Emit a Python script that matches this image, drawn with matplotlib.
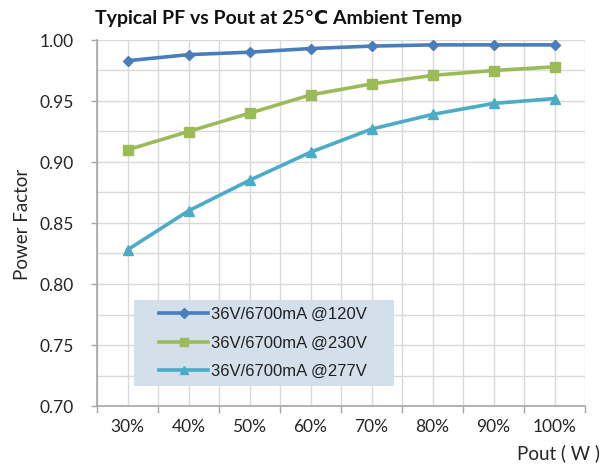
import matplotlib
matplotlib.use("Agg")
import matplotlib.pyplot as plt
from matplotlib.patches import Rectangle
import numpy as np

categories = ["30%", "40%", "50%", "60%", "70%", "80%", "90%", "100%"]
pf_120v = [0.983, 0.988, 0.990, 0.993, 0.995, 0.996, 0.996, 0.996]
pf_230v = [0.910, 0.925, 0.940, 0.955, 0.964, 0.971, 0.975, 0.978]
pf_277v = [0.828, 0.860, 0.885, 0.908, 0.927, 0.939, 0.948, 0.952]
series_labels = ["36V/6700mA @120V", "36V/6700mA @230V", "36V/6700mA @277V"]
y_ticks = [0.70, 0.75, 0.80, 0.85, 0.90, 0.95, 1.00]

W, H = 613, 469
fig = plt.figure(figsize=(W / 100, H / 100), dpi=100)
ax = fig.add_axes([97 / W, 1 - 406 / H, (585 - 97) / W, (406 - 40) / H])

x = np.arange(len(categories))
ax.plot(x, pf_120v, color="#4A7EBB", lw=2.6, marker="D", ms=5.5, label=series_labels[0], zorder=3)
ax.plot(x, pf_230v, color="#9BBB59", lw=2.6, marker="s", ms=6.5, label=series_labels[1], zorder=3)
ax.plot(x, pf_277v, color="#4BACC6", lw=2.6, marker="^", ms=7, label=series_labels[2], zorder=3)

ax.set_xlim(-0.5, len(categories) - 0.5)
ax.set_ylim(0.70, 1.00)

ax.set_xticks(x)
ax.set_xticklabels(categories)
ax.set_xticks(np.arange(-0.5, len(categories), 1.0), minor=True)
ax.set_yticks(y_ticks)
ax.set_yticklabels([f"{v:.2f}" for v in y_ticks])
ax.set_yticks(np.arange(0.725, 1.0, 0.05), minor=True)

for lab in ax.get_xticklabels() + ax.get_yticklabels():
    lab.set_fontfamily(["Lato", "DejaVu Sans"])
    lab.set_fontsize(12.5)
    lab.set_color("#262626")

ax.tick_params(axis="x", which="major", length=0, pad=9)
ax.tick_params(axis="x", which="minor", length=5, color="#A6A6A6", width=1, direction="out")
ax.tick_params(axis="y", which="major", length=4, color="#A6A6A6", width=1, pad=13)
ax.tick_params(axis="y", which="minor", length=0)

ax.grid(True, which="both", color="#D9D9D9", lw=1, zorder=0)
ax.set_axisbelow(True)
for s in ["top", "right"]:
    ax.spines[s].set_visible(False)
for s in ["left", "bottom"]:
    ax.spines[s].set_color("#A6A6A6")
    ax.spines[s].set_linewidth(1.2)

fig.text(95 / W, 1 - 18 / H, "Typical PF vs Pout at 25℃ Ambient Temp",
         fontsize=14, fontweight="bold", family=["Lato", "DejaVu Sans"],
         ha="left", va="center", color="#111111")
fig.text(23 / W, 1 - 224 / H, "Power Factor", rotation=90, fontsize=13.5,
         family=["Lato", "DejaVu Sans"], ha="center", va="center", color="#262626")
fig.text(600 / W, 1 - 453 / H, "Pout ( W )", fontsize=13.5,
         family=["Lato", "DejaVu Sans"], ha="right", va="center", color="#262626")

# legend background box
bg = Rectangle((134 / W, 1 - 386 / H), (394 - 134) / W, (386 - 300) / H,
               transform=fig.transFigure, facecolor="#D3DFEB", edgecolor="none", zorder=4)
fig.add_artist(bg)

leg = fig.legend(loc="center left", bbox_to_anchor=(159 / W, 1 - 343 / H),
                 bbox_transform=fig.transFigure, frameon=False,
                 prop={"family": "Liberation Sans", "size": 12},
                 handlelength=2.95, borderpad=0, labelspacing=0.8, handletextpad=0.15,
                 borderaxespad=0, markerscale=0.85)
leg.set_zorder(5)
for t in leg.get_texts():
    t.set_color("#222222")

fig.savefig("out.png", dpi=100)
